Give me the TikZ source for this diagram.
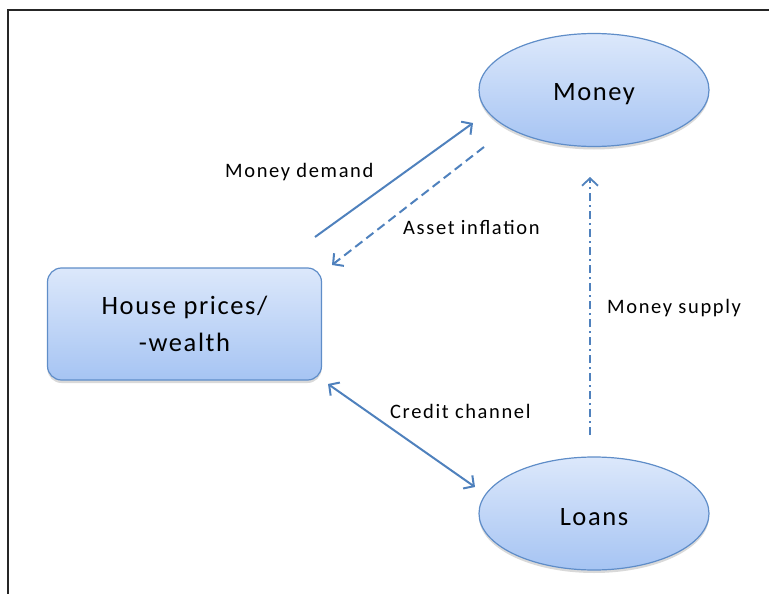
\documentclass[tikz,border=0pt]{standalone}
\usepackage{fontspec}
\setmainfont{Carlito}[LetterSpace=6]
\usetikzlibrary{arrows.meta,shapes.geometric,shadows}
\definecolor{nodetop}{HTML}{DCE8FB}
\definecolor{nodebot}{HTML}{A6C4F3}
\definecolor{nodeline}{HTML}{5F8DC8}
\definecolor{arrowblue}{HTML}{4F81BD}
\tikzset{
  bubble/.style={ellipse, draw=nodeline, line width=1.2pt, top color=nodetop, bottom color=nodebot,
    minimum width=230pt, minimum height=113pt, inner sep=0pt,
    font=\fontsize{26.5}{31}\selectfont,
    drop shadow={shadow xshift=0pt, shadow yshift=-3pt, opacity=0.25, fill=black!60}},
  boxnode/.style={rectangle, rounded corners=14pt, draw=nodeline, line width=1.2pt, top color=nodetop, bottom color=nodebot,
    minimum width=274pt, minimum height=112pt, inner sep=0pt, align=center,
    font=\fontsize{26.5}{37}\selectfont,
    drop shadow={shadow xshift=0pt, shadow yshift=-3pt, opacity=0.25, fill=black!60}},
  lbl/.style={anchor=base west, inner sep=0pt, font=\fontsize{20.5}{24}\selectfont\addfontfeature{LetterSpace=8}},
  conn/.style={draw=arrowblue, line width=2pt},
  tip/.style={-{Straight Barb[length=7.5pt,width=16pt]}},
  dtip/.style={{Straight Barb[length=7.5pt,width=16pt]}-{Straight Barb[length=7.5pt,width=16pt]}},
}
\begin{document}
\begin{tikzpicture}[x=1pt,y=-1pt]
\useasboundingbox (0,0) rectangle (769,594);
% frame
\draw[line width=2pt, black!85] (8,594) -- (8,10) -- (769,10);

% nodes
\node[bubble] (money) at (594,90) {\raisebox{-10pt}[0pt][0pt]{Money}};
\node[bubble] (loans) at (594,513.5) {\raisebox{-12pt}[0pt][0pt]{Loans}};
\node[boxnode] (house) at (184.5,324) {\raisebox{-2pt}{House prices/}\\\raisebox{-2pt}{-wealth}};

% connector end points
\coordinate (mdA) at (315,237);
\coordinate (mdB) at (473,123);
\coordinate (aiA) at (484,147);
\coordinate (aiB) at (332,265);
\coordinate (ccA) at (328,384);
\coordinate (ccB) at (475,487);
\coordinate (msA) at (590,435);
\coordinate (msB) at (590,177);

% connectors
\draw[conn, tip] (mdA) -- (mdB);
\draw[conn, tip, dash pattern=on 9pt off 5pt] (aiA) -- (aiB);
\draw[conn, dtip] (ccA) -- (ccB);
\draw[conn, tip, line width=1.8pt, dash pattern=on 8pt off 4pt on 2pt off 4pt] (msA) -- (msB);

% labels
\node[lbl] (lmd) at (225,177) {Money demand};
\node[lbl] (lai) at (403,234) {Asset inflation};
\node[lbl] (lcc) at (390,418) {Credit channel};
\node[lbl] (lms) at (607,313) {Money supply};
\end{tikzpicture}
\end{document}
